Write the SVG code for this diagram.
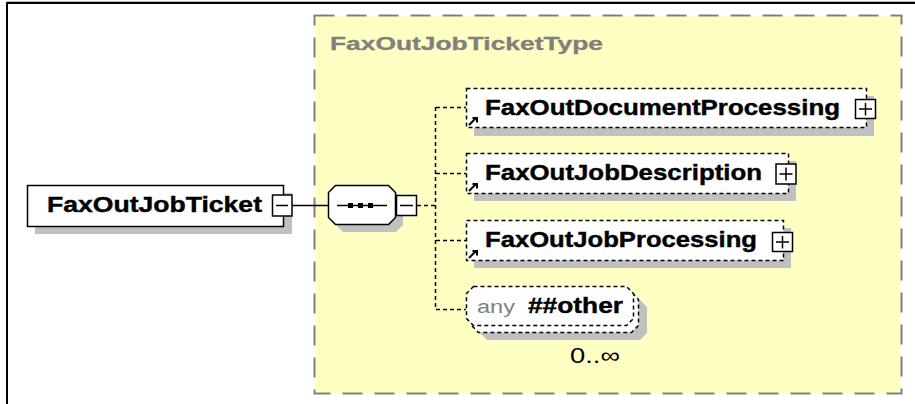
<svg xmlns="http://www.w3.org/2000/svg" width="915" height="404" viewBox="0 0 915 404">
<style>
.shadow{fill:#c0c0c0;stroke:none}
.elem{fill:#ffffff;stroke:#000000;stroke-width:1.5}
.ref{fill:#ffffff;stroke:#000000;stroke-width:1.5;stroke-dasharray:4,3}
.btn{fill:#ffffff;stroke:#000000;stroke-width:1.5}
.lbl{font-family:"Liberation Sans",Arial,sans-serif;font-weight:bold;font-size:22px;fill:#000000;stroke:#000000;stroke-width:0.4}
.conn{fill:none;stroke:#000000;stroke-width:1.5}
.dconn{fill:none;stroke:#000000;stroke-width:1.5;stroke-dasharray:4,3}
</style>
<rect x="0" y="0" width="915" height="404" fill="#ffffff"/>
<path d="M7,404 V3 H915" fill="none" stroke="#000000" stroke-width="2"/>
<line x1="7" y1="1.5" x2="915" y2="1.5" stroke="#b0b0b0" stroke-width="1"/>

<g id="type-FaxOutJobTicketType">
<rect x="314.5" y="15.5" width="587" height="378" fill="#ffffc4" stroke="#808080" stroke-width="2" stroke-dasharray="20,12"/>
<text x="330" y="50" font-family="'Liberation Sans',Arial,sans-serif" font-weight="bold" font-size="18" fill="#808080" stroke="#808080" stroke-width="0.3" textLength="273" lengthAdjust="spacingAndGlyphs">FaxOutJobTicketType</text>
</g>

<g id="connectors">
<line class="conn" x1="292" y1="205.5" x2="328" y2="205.5"/>
<line class="dconn" x1="417" y1="205.5" x2="436" y2="205.5"/>
<line class="dconn" x1="435.5" y1="107" x2="435.5" y2="309"/>
<line class="dconn" x1="436" y1="107.5" x2="466" y2="107.5"/>
<line class="dconn" x1="436" y1="173.5" x2="466" y2="173.5"/>
<line class="dconn" x1="436" y1="240.5" x2="466" y2="240.5"/>
<line class="dconn" x1="436" y1="309.5" x2="466" y2="309.5"/>
</g>

<g id="node-FaxOutJobTicket">
<rect class="shadow" x="35" y="193" width="257" height="41"/>
<rect class="elem" x="27.5" y="185.5" width="256" height="41"/>
<text class="lbl" x="47" y="212" textLength="215" lengthAdjust="spacingAndGlyphs">FaxOutJobTicket</text>
<rect class="btn" x="272.5" y="195" width="19.5" height="21"/>
<line class="conn" x1="276" y1="205.5" x2="288" y2="205.5"/>
</g>

<g id="node-sequence">
<polygon class="shadow" points="343,193 396,193 403,200 403,225 396,232 343,232 336,225 336,200"/>
<polygon class="elem" points="335.5,185.5 388.5,185.5 395.5,192.5 395.5,217.5 388.5,224.5 335.5,224.5 328.5,217.5 328.5,192.5"/>
<line class="conn" x1="337" y1="205.5" x2="387" y2="205.5"/>
<rect x="348" y="203" width="5" height="5" fill="#000"/>
<rect x="358" y="203" width="5" height="5" fill="#000"/>
<rect x="368" y="203" width="5" height="5" fill="#000"/>
<rect class="btn" x="396.5" y="195.5" width="20" height="20"/>
<line class="conn" x1="400" y1="205.5" x2="413" y2="205.5"/>
</g>

<g id="node-FaxOutDocumentProcessing">
<rect class="shadow" x="474" y="96" width="400" height="40"/>
<rect class="ref" x="466.5" y="88.5" width="400" height="39"/>
<path d="M469,125 L476,118 M472.5,118 H477 V122.5" fill="none" stroke="#000" stroke-width="2"/>
<text class="lbl" x="485" y="115" textLength="355" lengthAdjust="spacingAndGlyphs">FaxOutDocumentProcessing</text>
<rect class="btn" x="855.5" y="99.5" width="20" height="19"/>
<path class="conn" d="M859,109 H872 M865.5,103 V115.5"/>
</g>

<g id="node-FaxOutJobDescription">
<rect class="shadow" x="474" y="161" width="322" height="40"/>
<rect class="ref" x="466.5" y="153.5" width="322" height="40"/>
<path d="M469,191 L476,184 M472.5,184 H477 V188.5" fill="none" stroke="#000" stroke-width="2"/>
<text class="lbl" x="485" y="180" textLength="277" lengthAdjust="spacingAndGlyphs">FaxOutJobDescription</text>
<rect class="btn" x="776" y="164" width="20" height="20"/>
<path class="conn" d="M779.5,174 H792.5 M786,167.5 V180.5"/>
</g>

<g id="node-FaxOutJobProcessing">
<rect class="shadow" x="474" y="228" width="317" height="40"/>
<rect class="ref" x="466.5" y="220.5" width="317" height="40"/>
<path d="M469,258 L476,251 M472.5,251 H477 V255.5" fill="none" stroke="#000" stroke-width="2"/>
<text class="lbl" x="485" y="247" textLength="272" lengthAdjust="spacingAndGlyphs">FaxOutJobProcessing</text>
<rect class="btn" x="772.5" y="232.5" width="20" height="19"/>
<path class="conn" d="M776,242 H789 M782.5,236 V248.5"/>
</g>

<g id="node-any-other">
<polygon class="shadow" points="487,300 640,300 647,307 647,333 640,340 487,340 480,333 480,307"/>
<polygon class="ref" points="478.5,292.5 631.5,292.5 638.5,299.5 638.5,325.5 631.5,332.5 478.5,332.5 471.5,325.5 471.5,299.5"/>
<polygon class="ref" points="473.5,286.5 626.5,286.5 633.5,293.5 633.5,318.5 626.5,325.5 473.5,325.5 466.5,318.5 466.5,293.5"/>
<text x="477" y="313" font-family="'Liberation Sans',Arial,sans-serif" font-size="18" fill="#808080" textLength="38" lengthAdjust="spacingAndGlyphs">any</text>
<text class="lbl" x="528" y="313" textLength="95" lengthAdjust="spacingAndGlyphs">##other</text>
<text x="570" y="363" font-family="'Liberation Sans',Arial,sans-serif" font-size="22" fill="#000" textLength="50" lengthAdjust="spacingAndGlyphs">0..∞</text>
</g>
</svg>
